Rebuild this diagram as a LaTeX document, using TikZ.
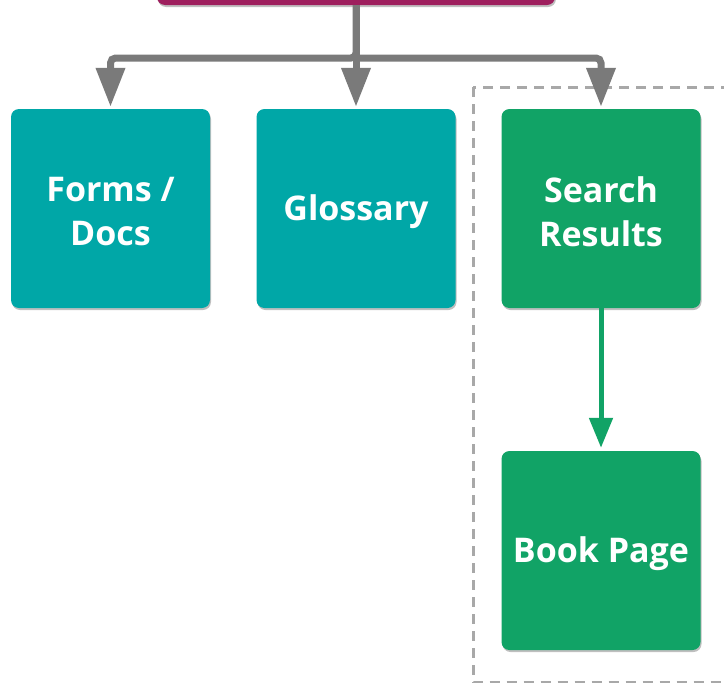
\documentclass[tikz,border=0pt]{standalone}
\usepackage{fontspec}
\setmainfont{Open Sans}
\usetikzlibrary{arrows.meta,shadows}
\definecolor{tealc}{RGB}{0,167,167}
\definecolor{greenc}{RGB}{17,163,102}
\definecolor{magc}{RGB}{158,31,94}
\definecolor{arrowgray}{RGB}{122,122,122}
\definecolor{dashgray}{RGB}{168,168,168}
\tikzset{
  boxbase/.style={rounded corners=8pt, minimum width=199pt, minimum height=199pt,
    inner sep=0pt,
    drop shadow={shadow xshift=1pt, shadow yshift=-2pt, opacity=0.25, fill=black}},
  boxtext/.style={yshift=-3pt, align=center, text=white, inner sep=0pt,
    font=\fontsize{34}{44}\selectfont\bfseries},
  tealbox/.style={boxbase, fill=tealc},
  greenbox/.style={boxbase, fill=greenc},
  parentbox/.style={rounded corners=8pt, minimum width=398pt, minimum height=60pt,
    inner sep=0pt, fill=magc,
    drop shadow={shadow xshift=1pt, shadow yshift=-2pt, opacity=0.25, fill=black}},
  grayconn/.style={draw=arrowgray, line width=7pt, rounded corners=5pt,
    -{Triangle[length=39pt, width=28pt]}, shorten >=2pt},
  greenconn/.style={draw=greenc, line width=5pt,
    -{Triangle[length=30pt, width=23pt]}, shorten >=3pt},
  groupframe/.style={draw=dashgray, line width=3pt, dash pattern=on 10pt off 7pt}
}
\begin{document}
\begin{tikzpicture}[x=1pt,y=-1pt]
\useasboundingbox (0,0) rectangle (724,683);
% group frame
\draw[groupframe] (473,87) rectangle (780,682.5);
% nodes
\node[parentbox] (parent) at (356,-25) {};
\node[tealbox, label={[boxtext]center:{Forms /\\Docs}}] (forms) at (110.5,208.5) {};
\node[tealbox, label={[boxtext]center:{Glossary}}] (glossary) at (356,208.5) {};
\node[greenbox, label={[boxtext]center:{Search\\Results}}] (search) at (601,208.5) {};
\node[greenbox, label={[boxtext]center:{Book Page}}] (book) at (601,550.5) {};
\coordinate (junction) at (356,58);
% connectors
\draw[grayconn] (parent.south) -- (junction) -| (forms.north);
\draw[grayconn] (parent.south) -- (glossary.north);
\draw[grayconn] (junction) -| (search.north);
\draw[greenconn] (search.south) -- (book.north);
\end{tikzpicture}
\end{document}
